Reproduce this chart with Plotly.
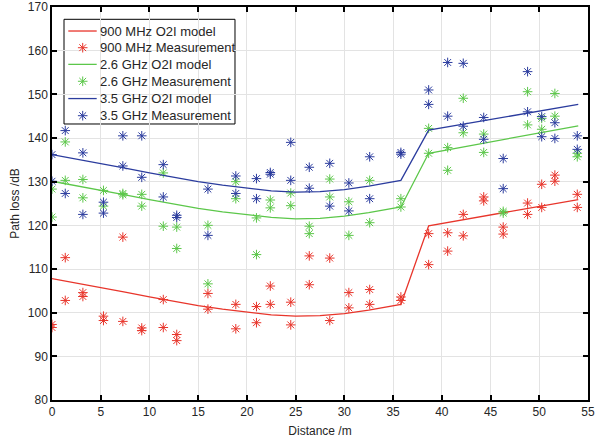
import plotly.graph_objects as go

# ---- model curves ----
model_x = [0, 2.5, 5, 7.5, 10, 12.5, 15, 17.5, 20, 22.5, 25, 27.5, 30, 32.5, 35.8, 38.65, 54]
model_900 = [107.8, 106.8, 105.8, 104.7, 103.6, 102.6, 101.6, 100.8, 100.1, 99.5, 99.2, 99.3, 99.8, 100.6, 101.9, 119.9, 125.9]
model_2600 = [130.1, 129.1, 128.1, 127.0, 125.9, 124.9, 123.9, 123.1, 122.4, 121.8, 121.5, 121.6, 122.1, 122.9, 124.2, 136.5, 142.8]
model_3500 = [136.2, 135.2, 134.2, 133.1, 132.0, 131.0, 130.0, 129.2, 128.5, 127.9, 127.6, 127.7, 128.2, 129.0, 130.3, 141.8, 147.7]

# ---- measurements (two per distance) ----
dist = [0, 1.36, 3.17, 5.28, 7.27, 9.21, 11.42, 12.8, 16.0, 18.86, 20.98, 22.4, 24.5, 26.4,
        28.5, 30.46, 32.6, 35.8, 38.65, 40.6, 42.2, 44.3, 46.3, 48.8, 50.25, 51.6, 53.9]
meas_900_a = [97.3, 112.6, 104.6, 99.2, 117.3, 96.5, 103.0, 95.0, 104.4, 101.9, 101.4, 106.1, 102.4, 113.0,
              112.5, 104.6, 105.3, 103.6, 118.1, 118.3, 122.5, 126.5, 119.6, 125.1, 129.4, 131.5, 127.1]
meas_900_b = [96.6, 102.8, 103.7, 98.2, 98.0, 95.9, 96.6, 93.6, 100.8, 96.3, 97.7, 101.9, 97.2, 106.4,
              98.2, 101.1, 101.9, 102.8, 111.0, 114.1, 117.6, 125.6, 118.0, 122.5, 124.1, 130.1, 124.1]
meas_2600_a = [128.3, 139.1, 130.5, 128.0, 127.3, 127.1, 132.0, 119.6, 120.0, 130.0, 121.7, 125.8, 127.4, 119.8,
               130.6, 125.4, 130.3, 126.1, 142.2, 137.8, 149.1, 140.9, 122.8, 150.6, 144.5, 150.2, 136.5]
meas_2600_b = [121.9, 130.3, 126.3, 124.4, 127.0, 124.4, 119.8, 114.7, 106.6, 126.1, 113.3, 124.0, 124.5, 118.1,
               126.5, 117.7, 120.6, 124.2, 136.5, 132.6, 141.2, 136.7, 123.2, 143.0, 142.0, 145.0, 135.7]
meas_3500_a = [136.2, 141.7, 136.6, 125.3, 140.5, 140.5, 133.9, 122.3, 128.3, 131.3, 130.7, 132.1, 139.0, 133.3,
               134.2, 129.7, 135.7, 136.7, 151.0, 157.3, 157.1, 144.7, 135.3, 155.2, 144.9, 143.5, 140.5]
meas_3500_b = [130.1, 127.3, 122.5, 122.8, 133.6, 131.0, 126.5, 121.8, 117.7, 127.3, 126.1, 131.7, 130.3, 128.5,
               124.4, 123.3, 126.1, 136.3, 147.7, 145.0, 142.7, 139.7, 128.4, 146.0, 140.3, 139.9, 137.4]

names = ["900 MHz O2I model", "900 MHz Measurement",
         "2.6 GHz O2I model", "2.6 GHz Measurement",
         "3.5 GHz O2I model", "3.5 GHz Measurement"]

RED = "#E8352B"
GREEN = "#5CC74A"
BLUE = "#2B3C9E"
FONT = "Liberation Sans, Arial"
TXT = "#262626"

fig = go.Figure()
series = [
    (model_900, meas_900_a, meas_900_b, RED, names[0], names[1]),
    (model_2600, meas_2600_a, meas_2600_b, GREEN, names[2], names[3]),
    (model_3500, meas_3500_a, meas_3500_b, BLUE, names[4], names[5]),
]
for model, ma, mb, col, nm_line, nm_meas in series:
    fig.add_trace(go.Scatter(x=model_x, y=model, mode="lines", name=nm_line,
                             line=dict(color=col, width=1.3), showlegend=False))
    fig.add_trace(go.Scatter(x=dist + dist, y=ma + mb, mode="markers", name=nm_meas,
                             marker=dict(symbol="asterisk-open", size=8, color=col,
                                         line=dict(color=col, width=1)),
                             showlegend=False))

# ---- legend drawn in paper space (compact MATLAB-style spacing) ----
leg_left, leg_right, leg_top, leg_bottom = 0.0224, 0.3414, 0.9687, 0.7023
row_y = [0.9389, 0.8964, 0.8540, 0.8110, 0.7670, 0.7234]
line_x0, line_x1, mark_x, text_x = 0.0304, 0.0834, 0.0573, 0.0850
colors = [RED, RED, GREEN, GREEN, BLUE, BLUE]

shapes = [dict(type="rect", xref="paper", yref="paper", x0=leg_left, x1=leg_right,
               y0=leg_bottom, y1=leg_top, fillcolor="white",
               line=dict(color="black", width=1), layer="between")]
annotations = []
mk_y, mk_c = [], []
for i, (nm, c, yy) in enumerate(zip(names, colors, row_y)):
    if i % 2 == 0:
        shapes.append(dict(type="line", xref="paper", yref="paper", x0=line_x0, x1=line_x1,
                           y0=yy, y1=yy, line=dict(color=c, width=1.3), layer="above"))
    else:
        mk_y.append(yy)
        mk_c.append(c)
    annotations.append(dict(xref="paper", yref="paper", x=text_x, y=yy, text=nm,
                            showarrow=False, xanchor="left", yanchor="middle",
                            font=dict(family=FONT, size=13, color=TXT)))

fig.add_trace(go.Scatter(x=[mark_x] * len(mk_y), y=mk_y, mode="markers", xaxis="x2", yaxis="y2",
                         marker=dict(symbol="asterisk-open", size=8, color=mk_c,
                                     line=dict(color=mk_c, width=1)),
                         showlegend=False, hoverinfo="skip"))

axis_common = dict(showline=True, linecolor="black", linewidth=1.5, mirror="ticks",
                   ticks="inside", ticklen=5, tickcolor="black", tickwidth=1.5,
                   showgrid=True, gridcolor="#E3E3E3", gridwidth=1, zeroline=False,
                   automargin=False,
                   tickfont=dict(family=FONT, size=12, color=TXT))

fig.update_xaxes(range=[0, 55], tickmode="array", tickvals=list(range(0, 56, 5)),
                 title=dict(text="Distance /m", standoff=8,
                            font=dict(family=FONT, size=12, color=TXT)),
                 **axis_common)
fig.update_yaxes(range=[80, 170], tickmode="array", tickvals=list(range(80, 171, 10)),
                 title=dict(text="Path loss /dB", standoff=6,
                            font=dict(family=FONT, size=12, color=TXT)),
                 **axis_common)

fig.update_layout(
    width=595, height=442,
    margin=dict(l=52, r=7, t=7, b=42),
    paper_bgcolor="white", plot_bgcolor="white",
    showlegend=False,
    xaxis2=dict(overlaying="x", range=[0, 1], visible=False, fixedrange=True),
    yaxis2=dict(overlaying="y", range=[0, 1], visible=False, fixedrange=True),
    shapes=shapes,
    annotations=annotations,
)

fig.write_html("out.html", config={"displayModeBar": False},
               post_script="document.body.style.margin='0';")
